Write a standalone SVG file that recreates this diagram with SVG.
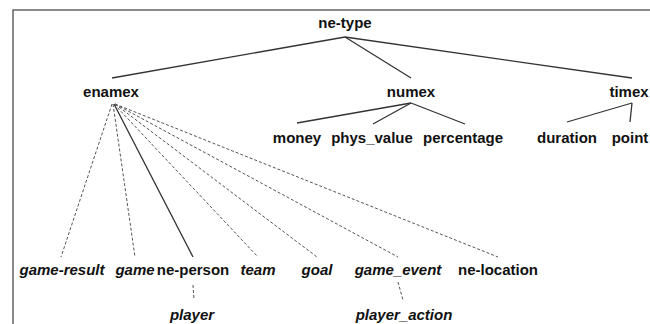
<svg xmlns="http://www.w3.org/2000/svg" width="650" height="324" viewBox="0 0 650 324">
<style>
text{font-family:"Liberation Sans",Arial,sans-serif;font-size:15px;font-weight:bold;fill:#111;text-anchor:middle}
.i{font-style:italic}
.s{stroke:#333;stroke-width:1.3;fill:none}
.d{stroke:#555;stroke-width:1;stroke-dasharray:3 2;fill:none}
.frame{stroke:#666;stroke-width:1.5;fill:none}
</style>
<rect width="650" height="324" fill="#fff"/>
<path class="frame" d="M13,324 V10 H650"/>
<g id="connectors">
<line class="s" x1="345" y1="37" x2="112" y2="78"/>
<line class="s" x1="345" y1="37" x2="411" y2="78"/>
<line class="s" x1="345" y1="37" x2="632" y2="78"/>
<line class="s" x1="411" y1="103" x2="297" y2="123"/>
<line class="s" x1="411" y1="103" x2="373" y2="124"/>
<line class="s" x1="411" y1="103" x2="465" y2="124"/>
<line class="s" x1="632" y1="103" x2="567" y2="122"/>
<line class="s" x1="632" y1="103" x2="630" y2="122"/>
<line class="d" x1="112" y1="104" x2="61" y2="257"/>
<line class="d" x1="113" y1="104" x2="135" y2="257"/>
<line class="s" x1="114" y1="104" x2="193" y2="257"/>
<line class="d" x1="114" y1="104" x2="258" y2="257"/>
<line class="d" x1="115" y1="104" x2="317" y2="257"/>
<line class="d" x1="115" y1="104" x2="398" y2="257"/>
<line class="d" x1="115" y1="104" x2="498" y2="257"/>
<line class="d" x1="193" y1="285" x2="194" y2="300"/>
<line class="d" x1="398" y1="282" x2="403" y2="300"/>
</g>
<g id="ne-type"><text x="345" y="28">ne-type</text></g>
<g id="enamex"><text x="111" y="97">enamex</text></g>
<g id="numex"><text x="411" y="97">numex</text></g>
<g id="timex"><text x="629" y="97">timex</text></g>
<g id="money"><text x="297" y="143">money</text></g>
<g id="phys_value"><text x="372" y="143">phys_value</text></g>
<g id="percentage"><text x="463" y="143">percentage</text></g>
<g id="duration"><text x="567" y="143">duration</text></g>
<g id="point"><text x="630" y="143">point</text></g>
<g id="game-result"><text class="i" x="62" y="275">game-result</text></g>
<g id="game"><text class="i" x="135" y="275">game</text></g>
<g id="ne-person"><text x="193" y="275">ne-person</text></g>
<g id="team"><text class="i" x="258" y="275">team</text></g>
<g id="goal"><text class="i" x="317" y="275">goal</text></g>
<g id="game_event"><text class="i" x="398" y="275">game_event</text></g>
<g id="ne-location"><text x="498" y="275">ne-location</text></g>
<g id="player"><text class="i" x="192" y="320">player</text></g>
<g id="player_action"><text class="i" x="404" y="320">player_action</text></g>
</svg>
